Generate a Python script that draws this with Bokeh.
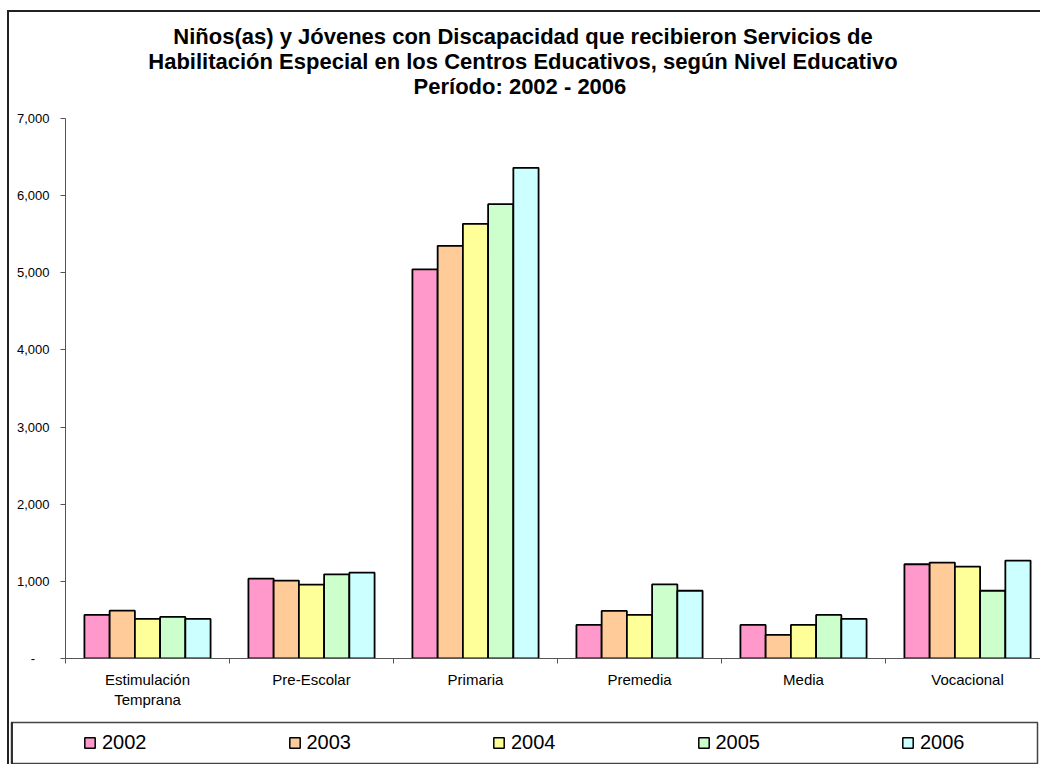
from bokeh.plotting import figure
from bokeh.layouts import column
from bokeh.models import (Range1d, FixedTicker, NumeralTickFormatter, Legend, LegendItem,
                          ColumnDataSource)
from bokeh.core.properties import value
from bokeh.embed import file_html
from bokeh.resources import INLINE

# ---- data ----
categories = ["Estimulación\nTemprana", "Pre-Escolar", "Primaria", "Premedia", "Media", "Vocacional"]
years = ["2002", "2003", "2004", "2005", "2006"]
v2002 = [565, 1035, 5045, 435, 435, 1222]
v2003 = [620, 1010, 5350, 617, 305, 1243]
v2004 = [513, 957, 5635, 565, 435, 1191]
v2005 = [539, 1091, 5890, 961, 565, 878]
v2006 = [513, 1113, 6360, 878, 513, 1270]
series = [v2002, v2003, v2004, v2005, v2006]
colors = ["#FF99CC", "#FFCC99", "#FFFF99", "#CCFFCC", "#CCFFFF"]
y_ticks = [0, 1000, 2000, 3000, 4000, 5000, 6000, 7000]
title_lines = ["Niños(as) y Jóvenes con Discapacidad que recibieron Servicios de",
               "Habilitación Especial en los Centros Educativos, según Nivel Educativo",
               "Período:  2002 - 2006"]

FONT = "Liberation Sans"
W = 1031
n_cat = len(categories)
bar_w = 1.0 / (len(years) + 1.5)   # Excel gap width 150%
CAT_PX = 164
FRAME_LEFT = 56

# ---- title strip ----
TH = 96
pt = figure(width=W, height=TH, output_backend="svg", toolbar_location=None,
            x_range=Range1d(0, W), y_range=Range1d(TH, 0),
            x_axis_location=None, y_axis_location=None, frame_align=False,
            min_border=0, outline_line_color=None, background_fill_color="white",
            border_fill_color="white")
pt.grid.visible = False
pt.text(x=[W / 2 - 2] * len(title_lines), y=[24 + 25 * i for i in range(len(title_lines))],
        text=title_lines, text_font=value(FONT), text_font_size=value("22px"),
        text_font_style="bold", text_color="black", text_align="center",
        text_baseline="middle")

# ---- main chart ----
MH = 604
frame_w = W - FRAME_LEFT
p = figure(width=W, height=MH, output_backend="svg", toolbar_location=None,
           x_range=Range1d(0, frame_w / CAT_PX), y_range=Range1d(0, 7000),
           min_border_left=FRAME_LEFT, min_border_right=0, min_border_top=10,
           min_border_bottom=54, frame_align=False,
           background_fill_color="white", border_fill_color="white", outline_line_color=None)

renderers = []
for s, (vals, col) in enumerate(zip(series, colors)):
    xs = [k + 0.5 + (s - 2) * bar_w for k in range(n_cat)]
    src = ColumnDataSource(dict(x=xs, top=vals))
    r = p.vbar(x="x", top="top", width=bar_w, bottom=0, source=src,
               fill_color=col, line_color="black", line_width=1.8)
    renderers.append(r)

p.xgrid.visible = False
p.ygrid.visible = False

xa = p.xaxis[0]
xa.ticker = FixedTicker(ticks=[k + 0.5 for k in range(n_cat)], minor_ticks=list(range(n_cat + 1)))
xa.major_label_overrides = {k + 0.5: c for k, c in enumerate(categories)}
xa.major_tick_out = 0
xa.major_tick_in = 0
xa.minor_tick_out = 5
xa.minor_tick_in = 0
xa.minor_tick_line_color = "#555555"
xa.axis_line_color = "#555555"
xa.major_label_text_font = FONT
xa.major_label_text_font_size = "15px"
xa.major_label_text_color = "black"
xa.major_label_standoff = 7

ya = p.yaxis[0]
ya.ticker = FixedTicker(ticks=y_ticks, minor_ticks=[])
ya.formatter = NumeralTickFormatter(format="0,0")
ya.major_label_overrides = {0: "-\u00a0\u00a0\u00a0\u00a0"}
ya.major_tick_out = 5
ya.major_tick_in = 0
ya.major_tick_line_color = "#555555"
ya.axis_line_color = "#555555"
ya.major_label_text_font = FONT
ya.major_label_text_font_size = "13px"
ya.major_label_text_color = "black"
ya.major_label_standoff = 11

# ---- legend strip ----
LH = 52
pl = figure(width=W, height=LH, output_backend="svg", toolbar_location=None,
            x_range=Range1d(0, 1), y_range=Range1d(0, 1),
            x_axis_location=None, y_axis_location=None, frame_align=False,
            min_border_left=2, min_border_right=3, min_border_top=10, min_border_bottom=1,
            outline_line_color="#444444", outline_line_width=1.5,
            background_fill_color="white", border_fill_color="white")
pl.grid.visible = False
# legend proxies: kept outside the visible range, they only supply the legend swatches
leg_rs = [pl.vbar(x=[-5], top=[1], width=0.1, fill_color=c, line_color="black", line_width=1.5)
          for c in colors]
legend = Legend(items=[LegendItem(label=y, renderers=[r]) for y, r in zip(years, leg_rs)],
                orientation="horizontal", location=(72, 9),
                border_line_color=None, background_fill_alpha=0,
                glyph_width=13, glyph_height=13, label_standoff=6, spacing=141,
                padding=0, margin=0, label_text_font=FONT, label_text_font_size="20px",
                label_text_color="black")
pl.add_layout(legend, "center")

layout = column(pt, p, pl, spacing=0, margin=(10, 0, 0, 7),
                styles={"border-left": "2px solid #222222", "border-top": "2px solid #222222"})

open("out.html", "w").write(file_html(layout, INLINE))
